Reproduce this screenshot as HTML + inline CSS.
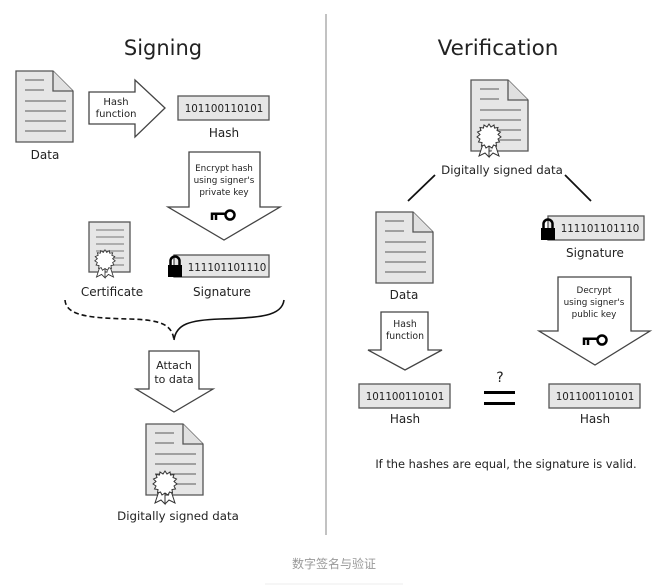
<!DOCTYPE html>
<html><head><meta charset="utf-8"><style>
html,body{margin:0;padding:0;background:#fff;width:669px;height:587px;overflow:hidden}
svg{display:block}
text{font-family:"DejaVu Sans","Liberation Sans","Noto Sans CJK SC",sans-serif;fill:#222}
</style></head><body>
<svg width="669" height="587" viewBox="0 0 669 587" xmlns="http://www.w3.org/2000/svg">
<defs>
<g id="doc">
 <path d="M0,0 H37 L57,20 V71 H0 Z" fill="#e6e6e6" stroke="#555" stroke-width="1.3"/>
 <path d="M37,0 V20 H57" fill="#e0e0e0" stroke="#555" stroke-width="1.3"/>
 <g stroke="#777" stroke-width="1.2">
  <line x1="9" y1="9" x2="28" y2="9"/><line x1="9" y1="19" x2="28" y2="19"/>
  <line x1="9" y1="30" x2="50" y2="30"/><line x1="9" y1="40" x2="50" y2="40"/>
  <line x1="9" y1="50" x2="50" y2="50"/><line x1="9" y1="60" x2="50" y2="60"/>
 </g>
</g>
<g id="seal">
 <path d="M-6,8 L-10,20 L-4,17 L0,21 L0,10 M6,8 L10,20 L4,17 L0,21" fill="#fff" stroke="#333" stroke-width="1"/>
 <polygon points="0,-12 2,-9 5,-11 5.5,-8 9,-8.5 8,-5.5 11.5,-4 9,-1.5 12,1 9,3 10.5,6 7,6.5 7.5,10 4.5,9 3,12 0,10 -3,12 -4.5,9 -7.5,10 -7,6.5 -10.5,6 -9,3 -12,1 -9,-1.5 -11.5,-4 -8,-5.5 -9,-8.5 -5.5,-8 -5,-11 -2,-9" fill="#fff" stroke="#333" stroke-width="1"/>
</g>
<g id="key">
 <circle cx="8" cy="0" r="4.5" fill="none" stroke="#000" stroke-width="2.5"/>
 <path d="M3.5,-1.2 H-10 V5 M-6,-1 V5" fill="none" stroke="#000" stroke-width="2.5"/>
</g>
<g id="lock">
 <path d="M-4.5,0 V-4 A4.5,4.5 0 0 1 4.5,-4 V0" fill="none" stroke="#000" stroke-width="2.5"/>
 <rect x="-7" y="0" width="14" height="12" fill="#000"/>
</g>
</defs>

<line x1="326" y1="14" x2="326" y2="535" stroke="#999" stroke-width="1.2"/>
<text x="163" y="55" font-size="21" text-anchor="middle">Signing</text>
<text x="498" y="55" font-size="21.5" text-anchor="middle">Verification</text>

<!-- Signing -->
<use href="#doc" x="16" y="71"/>
<text x="45" y="159" font-size="12" text-anchor="middle">Data</text>

<path d="M89,92 H135 V80 L165,108 L135,137 V124 H89 Z" fill="#fff" stroke="#444" stroke-width="1.3"/>
<text x="116" y="105" font-size="10" text-anchor="middle">Hash</text>
<text x="116" y="117" font-size="10" text-anchor="middle">function</text>

<rect x="178" y="96" width="91" height="24" fill="#e6e6e6" stroke="#555" stroke-width="1.3"/>
<text x="224" y="112" font-size="10.3" text-anchor="middle">101100110101</text>
<text x="224" y="137" font-size="12" text-anchor="middle">Hash</text>

<path d="M189,152 H260 V207 H280 L224,240 L168,207 H189 Z" fill="#fff" stroke="#444" stroke-width="1.3"/>
<text x="224" y="171" font-size="8.8" text-anchor="middle">Encrypt hash</text>
<text x="224" y="183" font-size="8.8" text-anchor="middle">using signer's</text>
<text x="224" y="195" font-size="8.8" text-anchor="middle">private key</text>
<use href="#key" x="222" y="215"/>

<rect x="89" y="222" width="41" height="50" fill="#e6e6e6" stroke="#555" stroke-width="1.3"/>
<g stroke="#777" stroke-width="1.1"><line x1="96" y1="230" x2="124" y2="230"/><line x1="96" y1="237" x2="124" y2="237"/><line x1="96" y1="244" x2="124" y2="244"/><line x1="96" y1="251" x2="124" y2="251"/><line x1="96" y1="258" x2="124" y2="258"/><line x1="96" y1="265" x2="124" y2="265"/></g>
<use href="#seal" transform="translate(105 260) scale(0.85)"/>
<text x="112" y="296" font-size="12" text-anchor="middle">Certificate</text>

<rect x="174" y="255" width="95" height="22" fill="#e6e6e6" stroke="#555" stroke-width="1.3"/>
<use href="#lock" x="175" y="265"/>
<text x="227" y="271" font-size="10.3" text-anchor="middle">111101101110</text>
<text x="222" y="296" font-size="12" text-anchor="middle">Signature</text>

<path d="M65,300 C66,316 90,318 130,319 C160,320 172,324 174,340" fill="none" stroke="#111" stroke-width="1.6" stroke-dasharray="5,3"/>
<path d="M284,300 C282,316 260,318 220,319 C190,320 176,324 174,340" fill="none" stroke="#111" stroke-width="1.6"/>

<path d="M149,351 H199 V389 H213 L174,412 L136,389 H149 Z" fill="#fff" stroke="#444" stroke-width="1.3"/>
<text x="174" y="369" font-size="11" text-anchor="middle">Attach</text>
<text x="174" y="383" font-size="11" text-anchor="middle">to data</text>

<use href="#doc" x="146" y="424"/>
<use href="#seal" x="165" y="483"/>
<text x="178" y="520" font-size="11.8" text-anchor="middle">Digitally signed data</text>

<!-- Verification -->
<use href="#doc" x="471" y="80"/>
<use href="#seal" x="489" y="136"/>
<text x="502" y="174" font-size="11.8" text-anchor="middle">Digitally signed data</text>
<line x1="435" y1="175" x2="408" y2="201" stroke="#111" stroke-width="1.8"/>
<line x1="565" y1="175" x2="591" y2="201" stroke="#111" stroke-width="1.8"/>

<use href="#doc" x="376" y="212"/>
<text x="404" y="299" font-size="12" text-anchor="middle">Data</text>

<rect x="548" y="216" width="96" height="24" fill="#e6e6e6" stroke="#555" stroke-width="1.3"/>
<use href="#lock" x="548" y="228"/>
<text x="600" y="232" font-size="10.3" text-anchor="middle">111101101110</text>
<text x="595" y="257" font-size="12" text-anchor="middle">Signature</text>

<path d="M381,312 H428 V350 H442 L405,370 L368,350 H381 Z" fill="#fff" stroke="#444" stroke-width="1.3"/>
<text x="405" y="327" font-size="9.3" text-anchor="middle">Hash</text>
<text x="405" y="339" font-size="9.3" text-anchor="middle">function</text>

<path d="M558,277 H631 V331 H650 L595,365 L539,331 H558 Z" fill="#fff" stroke="#444" stroke-width="1.3"/>
<text x="594" y="293" font-size="8.8" text-anchor="middle">Decrypt</text>
<text x="594" y="305" font-size="8.8" text-anchor="middle">using signer's</text>
<text x="594" y="317" font-size="8.8" text-anchor="middle">public key</text>
<use href="#key" x="594" y="340"/>

<rect x="359" y="384" width="91" height="24" fill="#e6e6e6" stroke="#555" stroke-width="1.3"/>
<text x="405" y="400" font-size="10.3" text-anchor="middle">101100110101</text>
<text x="405" y="423" font-size="12" text-anchor="middle">Hash</text>
<rect x="549" y="384" width="91" height="24" fill="#e6e6e6" stroke="#555" stroke-width="1.3"/>
<text x="595" y="400" font-size="10.3" text-anchor="middle">101100110101</text>
<text x="595" y="423" font-size="12" text-anchor="middle">Hash</text>

<text x="500" y="382" font-size="14" text-anchor="middle">?</text>
<rect x="484" y="391" width="31" height="3" fill="#000"/>
<rect x="484" y="402" width="31" height="3" fill="#000"/>

<text x="506" y="468" font-size="11.4" text-anchor="middle">If the hashes are equal, the signature is valid.</text>

<text x="334" y="568" font-size="12" text-anchor="middle" style="fill:#999">数字签名与验证</text>
<line x1="265" y1="584" x2="403" y2="584" stroke="#eee" stroke-width="1"/>
</svg>
</body></html>
